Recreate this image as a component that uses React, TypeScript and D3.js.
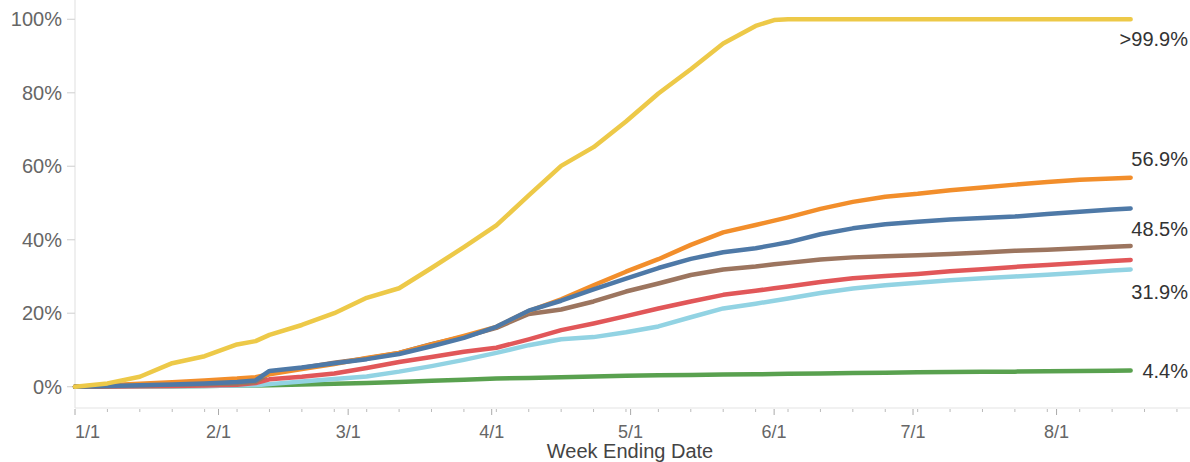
import React from "react";
import * as d3 from "d3";

const dates = [
  "2021-01-01", "2021-01-08", "2021-01-15", "2021-01-22", "2021-01-29",
  "2021-02-05", "2021-02-09", "2021-02-12", "2021-02-19", "2021-02-26",
  "2021-03-05", "2021-03-12", "2021-03-19", "2021-03-26",
  "2021-04-02", "2021-04-09", "2021-04-16", "2021-04-23", "2021-04-30",
  "2021-05-07", "2021-05-14", "2021-05-21", "2021-05-28",
  "2021-06-01", "2021-06-04", "2021-06-11", "2021-06-18", "2021-06-25",
  "2021-07-02", "2021-07-09", "2021-07-16", "2021-07-23", "2021-07-30",
  "2021-08-06", "2021-08-13", "2021-08-17",
];

const yellowValues = [0, 0.9, 2.7, 6.4, 8.3, 11.5, 12.4, 14.1, 16.8, 20.0, 24.2, 26.8, 32.3, 38.0, 43.9, 52.1, 60.1, 65.2, 72.2, 79.8, 86.4, 93.4, 98.2, 99.8, 100, 100, 100, 100, 100, 100, 100, 100, 100, 100, 100, 100];
const orangeValues = [0, 0.4, 0.8, 1.2, 1.7, 2.2, 2.6, 3.4, 4.8, 6.2, 7.8, 9.2, 11.5, 13.8, 16.3, 20.6, 23.8, 27.6, 31.3, 34.7, 38.6, 42.0, 44.0, 45.2, 46.1, 48.4, 50.3, 51.7, 52.5, 53.5, 54.2, 55.0, 55.7, 56.3, 56.7, 56.9];
const blueValues = [0, 0.2, 0.4, 0.6, 0.9, 1.3, 1.7, 4.3, 5.2, 6.4, 7.5, 8.9, 11.0, 13.3, 16.3, 20.7, 23.4, 26.5, 29.4, 32.3, 34.8, 36.6, 37.7, 38.6, 39.3, 41.5, 43.1, 44.2, 44.9, 45.5, 45.9, 46.3, 47.0, 47.6, 48.2, 48.5];
const brownValues = [0, 0.1, 0.3, 0.5, 0.7, 0.9, 1.3, 3.6, 5.1, 6.5, 7.7, 9.2, 11.6, 13.6, 16.0, 19.8, 21.0, 23.2, 25.9, 28.1, 30.4, 31.9, 32.7, 33.3, 33.7, 34.6, 35.2, 35.5, 35.8, 36.1, 36.5, 37.0, 37.3, 37.7, 38.1, 38.3];
const redValues = [0, 0.05, 0.1, 0.2, 0.3, 0.5, 1.0, 2.0, 2.7, 3.6, 5.1, 6.7, 8.1, 9.5, 10.6, 12.9, 15.4, 17.2, 19.2, 21.3, 23.2, 25.0, 26.1, 26.8, 27.3, 28.5, 29.5, 30.1, 30.7, 31.4, 32.0, 32.6, 33.1, 33.7, 34.2, 34.5];
const lightBlueValues = [0, 0, 0.05, 0.1, 0.2, 0.3, 0.4, 0.7, 1.4, 2.1, 2.8, 4.1, 5.6, 7.3, 9.2, 11.3, 12.9, 13.5, 14.8, 16.4, 18.9, 21.3, 22.6, 23.4, 24.0, 25.5, 26.7, 27.6, 28.3, 29.0, 29.5, 30.0, 30.5, 31.0, 31.6, 31.9];
const greenValues = [0, 0.05, 0.1, 0.15, 0.2, 0.3, 0.35, 0.4, 0.6, 0.8, 1.0, 1.3, 1.6, 1.9, 2.2, 2.4, 2.6, 2.8, 3.0, 3.1, 3.2, 3.3, 3.4, 3.45, 3.5, 3.6, 3.7, 3.8, 3.9, 4.0, 4.05, 4.1, 4.2, 4.3, 4.35, 4.4];

const yTicks = [0, 20, 40, 60, 80, 100];
const endLabels = [">99.9%", "56.9%", "48.5%", "31.9%", "4.4%"];

const series = [
  { key: "green", values: greenValues, color: "#59a14f", label: 4, labelDy: 0 },
  { key: "lightblue", values: lightBlueValues, color: "#92d3e3", label: 3, labelDy: 23 },
  { key: "red", values: redValues, color: "#e15759", label: -1, labelDy: 0 },
  { key: "brown", values: brownValues, color: "#9c755f", label: -1, labelDy: 0 },
  { key: "orange", values: orangeValues, color: "#f28e2b", label: 1, labelDy: -19 },
  { key: "blue", values: blueValues, color: "#4e79a7", label: 2, labelDy: 20 },
  { key: "yellow", values: yellowValues, color: "#edc948", label: 0, labelDy: 20 },
];

const W = 1190;
const H = 462;
const FONT = "'Liberation Sans', Arial, sans-serif";

export default function App() {
  const parse = d3.timeParse("%Y-%m-%d");
  const parsed = dates.map((d) => parse(d) as Date);
  const start = new Date(2021, 0, 1);
  const end = new Date(2021, 7, 31);
  const x = d3.scaleTime().domain([start, end]).range([75, 75 + 242 * 4.63]);
  const y = d3.scaleLinear().domain([0, 100]).range([386.7, 19.3]);
  const fmt = d3.timeFormat("%-m/%-d");

  const months = d3.timeMonth.range(start, new Date(2021, 8, 1));
  const weeks = d3.timeFriday.range(new Date(2021, 0, 2), new Date(2021, 8, 1));

  const axisY = 408;

  return (
    <svg
      width={W}
      height={H}
      style={{ position: "absolute", left: 0, top: 0, background: "#fff" }}
      fontFamily={FONT}
    >
      <line x1={75} x2={75} y1={0} y2={axisY} stroke="#e4e4e4" strokeWidth={1.2} />
      <line x1={75} x2={W} y1={axisY} y2={axisY} stroke="#e4e4e4" strokeWidth={1.2} />

      {yTicks.map((t) => (
        <g key={t}>
          <line x1={67} x2={75} y1={y(t)} y2={y(t)} stroke="#d6d6d6" strokeWidth={1.2} />
          <text x={62} y={y(t) + 7} textAnchor="end" fontSize={20} fill="#666">
            {t}%
          </text>
        </g>
      ))}

      {weeks.map((w, i) => (
        <line key={"w" + i} x1={x(w)} x2={x(w)} y1={axisY + 1} y2={axisY + 4} stroke="#bbb" strokeWidth={1} />
      ))}
      {months.map((m, i) => (
        <g key={"m" + i}>
          <line x1={x(m)} x2={x(m)} y1={axisY + 1} y2={axisY + 7} stroke="#aaa" strokeWidth={1} />
          <text
            x={x(m)}
            y={438}
            textAnchor={i === 0 ? "start" : "middle"}
            fontSize={18}
            fill="#666"
          >
            {fmt(m)}
          </text>
        </g>
      ))}
      <text x={630} y={458} textAnchor="middle" fontSize={20} fill="#444">
        Week Ending Date
      </text>

      {series.map((s) => {
        const line = d3
          .line<number>()
          .x((_, i) => x(parsed[i]))
          .y((v) => y(v))
          .curve(d3.curveLinear);
        return (
          <path
            key={s.key}
            d={line(s.values) || ""}
            fill="none"
            stroke={s.color}
            strokeWidth={4.5}
            strokeLinejoin="round"
            strokeLinecap="round"
          />
        );
      })}

      {series
        .filter((s) => s.label >= 0)
        .map((s) => {
          const last = s.values[s.values.length - 1];
          return (
            <text
              key={"l" + s.key}
              x={1188}
              y={y(last) + s.labelDy + 7}
              textAnchor="end"
              fontSize={20}
              fill="#333"
            >
              {endLabels[s.label]}
            </text>
          );
        })}
    </svg>
  );
}
